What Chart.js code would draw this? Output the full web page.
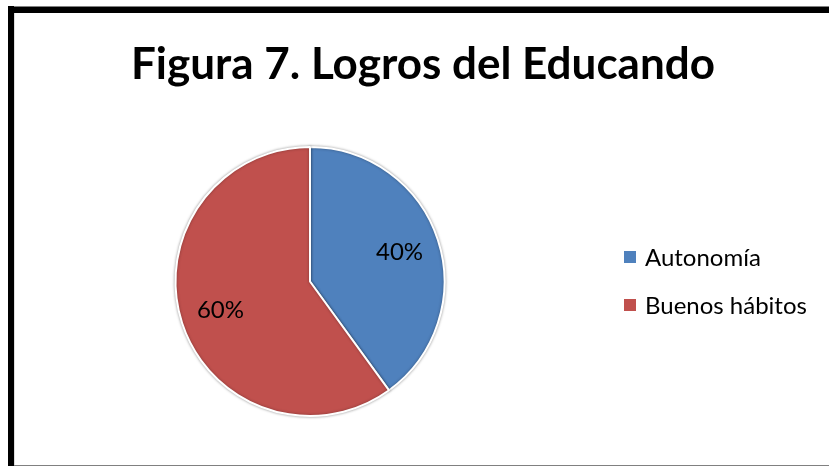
<!DOCTYPE html>
<html>
<head>
<meta charset="utf-8">
<script src="https://cdn.jsdelivr.net/npm/chart.js@4/dist/chart.umd.min.js"></script>
<style>
    html, body { margin: 0; padding: 0; background: #fff; }
    #wrap { width: 829px; height: 466px; }
</style>
</head>
<body>
<div id="wrap"><canvas id="pieCanvas" width="829" height="466"></canvas></div>
<script>
const chartTitle = "Figura 7. Logros del Educando";
const categories = ["Autonomía", "Buenos hábitos"];
const percentValues = [40, 60];
const sliceColors = ["#4F81BD", "#C0504D"];
const FONT = "Lato, 'Open Sans', sans-serif";

// frame + title + legend + percent labels, drawn around the pie
const decorPlugin = {
    id: "decor",
    beforeDraw(chart) {
        const ctx = chart.ctx;
        ctx.save();
        ctx.fillStyle = "#fff";
        ctx.fillRect(0, 0, chart.width, chart.height);
        ctx.fillStyle = "#808080";
        ctx.fillRect(8, 6, chart.width - 8, 1);
        ctx.fillRect(8, 465, chart.width - 8, 1);
        ctx.fillStyle = "#000";
        ctx.fillRect(8, 7, chart.width - 8, 6);
        ctx.fillRect(8, 6, 6, chart.height - 6);
        ctx.fillStyle = "#ddd";
        ctx.fillRect(14, 13, 1, chart.height - 14);
        ctx.restore();
    },
    beforeDatasetDraw(chart) {
        const ctx = chart.ctx;
        ctx.save();
        ctx.shadowColor = "rgba(0,0,0,0.35)";
        ctx.shadowBlur = 3;
    },
    afterDatasetDraw(chart) {
        chart.ctx.restore();
    },
    afterDraw(chart) {
        const ctx = chart.ctx;
        ctx.save();
        ctx.fillStyle = "#000";
        ctx.textBaseline = "middle";

        ctx.font = "bold 44px " + FONT;
        ctx.textAlign = "center";
        ctx.fillText(chartTitle, 423, 65);

        // legend
        ctx.font = "24px " + FONT;
        ctx.textAlign = "left";
        categories.forEach((name, i) => {
            const y = 257 + i * 48;
            ctx.fillStyle = sliceColors[i];
            ctx.fillRect(624, y - 6, 12, 12);
            ctx.fillStyle = "#000";
            ctx.fillText(name, 645, y + 1);
        });

        // percent labels inside slices
        ctx.font = "24px " + FONT;
        ctx.textAlign = "center";
        const meta = chart.getDatasetMeta(0);
        meta.data.forEach((arc, i) => {
            const p = arc.getProps(["x", "y", "startAngle", "endAngle", "outerRadius"], true);
            const mid = (p.startAngle + p.endAngle) / 2;
            const r = p.outerRadius * 0.7;
            ctx.fillText(percentValues[i] + "%", p.x + Math.cos(mid) * r, p.y + Math.sin(mid) * r);
        });
        ctx.restore();
    }
};

new Chart(document.getElementById("pieCanvas"), {
    type: "pie",
    data: {
        labels: categories,
        datasets: [{
            data: percentValues,
            backgroundColor: sliceColors,
            borderColor: "#fff",
            borderWidth: 2
        }]
    },
    options: {
        responsive: false,
        animation: false,
        layout: {
            padding: { left: 174, right: 383, top: 146, bottom: 49 }
        },
        plugins: {
            legend: { display: false },
            title: { display: false },
            tooltip: { enabled: false }
        }
    },
    plugins: [decorPlugin]
});
</script>
</body>
</html>
